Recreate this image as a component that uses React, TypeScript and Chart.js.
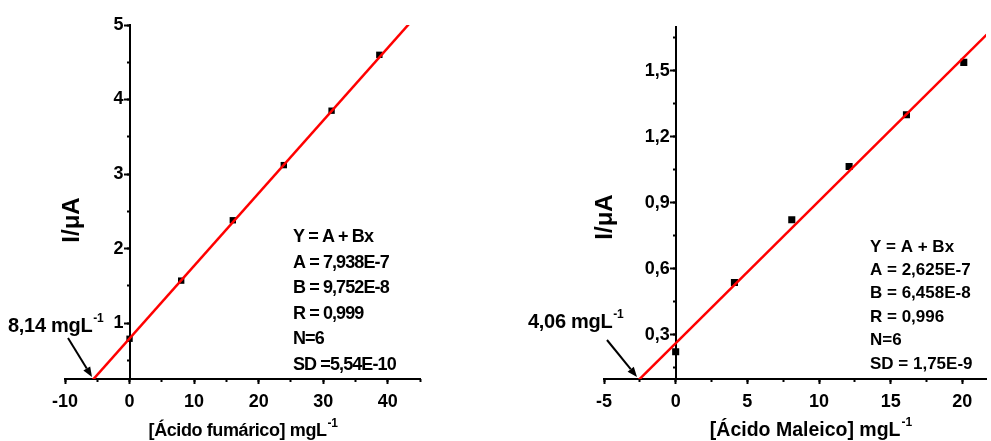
import React, { useEffect, useRef } from 'react';
import { Chart, registerables } from 'chart.js';

Chart.register(...registerables);

const FONT = '"Liberation Sans", Arial, sans-serif';

// ---- Left chart: ácido fumárico ----
const fumaricX = [0, 8, 16, 23.9, 31.3, 38.7];
const fumaricY = [0.79, 1.57, 2.38, 3.12, 3.85, 4.6];
const fumaricFitX = [-8.14, 45];
const fumaricFitY = [0, 5.18];
const fumaricStats = ['Y = A + Bx', 'A = 7,938E-7', 'B = 9,752E-8', 'R = 0,999', 'N=6', 'SD =5,54E-10'];
const fumaricLod = '8,14 mgL';
const fumaricXTitle = '[Ácido fumárico] mgL';

// ---- Right chart: ácido maleico ----
const maleicX = [0, 4.1, 8.1, 12.1, 16.1, 20.1];
const maleicY = [0.224, 0.538, 0.823, 1.065, 1.3, 1.538];
const maleicFitX = [-4.06, 21.7];
const maleicFitY = [0, 1.664];
const maleicStats = ['Y = A + Bx', 'A = 2,625E-7', 'B = 6,458E-8', 'R = 0,996', 'N=6', 'SD = 1,75E-9'];
const maleicLod = '4,06 mgL';
const maleicXTitle = '[Ácido Maleico] mgL';

const yTitle = 'I/\u03BCA';
const superscript = '-1';

type PanelCfg = {
  width: number;
  left: number;
  padding: { left: number; right: number; top: number; bottom: number };
  xMin: number; xMax: number; xStep: number; xMinor: number;
  yMin: number; yMax: number; yStep: number; yMinor: number;
  yDecimals: number;
  tickFont: number;
  pointRadius: number;
  xs: number[]; ys: number[]; fitX: number[]; fitY: number[];
  stats: string[]; statsX: number; statsY0: number; statsStep: number; statsFont: number; statsSpacing: number;
  lod: string; lodX: number; lodBase: number; lodFont: number;
  arrow: [number, number, number, number];
  xTitle: string; xTitleCenter: number; xTitleBase: number; xTitleFont: number; xTitleSpacing: number;
  yTitleX: number; yTitleY: number; yTitleFont: number;
};

const X_AXIS_BOX = 40;

const panels: PanelCfg[] = [
  {
    width: 480, left: 0,
    padding: { left: 65, right: 60, top: 25, bottom: 62 - X_AXIS_BOX },
    xMin: -10, xMax: 45, xStep: 10, xMinor: 5,
    yMin: 0.25, yMax: 5, yStep: 1, yMinor: 0.5,
    yDecimals: 0,
    tickFont: 18,
    pointRadius: 4.5,
    xs: fumaricX, ys: fumaricY, fitX: fumaricFitX, fitY: fumaricFitY,
    stats: fumaricStats, statsX: 293, statsY0: 237, statsStep: 25.6, statsFont: 18, statsSpacing: -0.9,
    lod: fumaricLod, lodX: 8, lodBase: 332, lodFont: 20,
    arrow: [68, 338, 92, 377],
    xTitle: fumaricXTitle, xTitleCenter: 243, xTitleBase: 436, xTitleFont: 18, xTitleSpacing: -0.4,
    yTitleX: 72, yTitleY: 220, yTitleFont: 24,
  },
  {
    width: 511, left: 480,
    padding: { left: 124, right: 0, top: 26.7, bottom: 62 - X_AXIS_BOX },
    xMin: -5, xMax: 21.65, xStep: 5, xMinor: 2.5,
    yMin: 0.1, yMax: 1.7, yStep: 0.3, yMinor: 0.15,
    yDecimals: 1,
    tickFont: 18,
    pointRadius: 5,
    xs: maleicX, ys: maleicY, fitX: maleicFitX, fitY: maleicFitY,
    stats: maleicStats, statsX: 390, statsY0: 247, statsStep: 23.4, statsFont: 17, statsSpacing: 0,
    lod: maleicLod, lodX: 48, lodBase: 328, lodFont: 20,
    arrow: [127, 340, 157, 377],
    xTitle: maleicXTitle, xTitleCenter: 331, xTitleBase: 436, xTitleFont: 19.5, xTitleSpacing: 0,
    yTitleX: 125, yTitleY: 217, yTitleFont: 24,
  },
];

function textWithSup(ctx: CanvasRenderingContext2D, text: string, x: number, base: number, size: number, supSize: number, spacing: number) {
  ctx.font = `bold ${size}px ${FONT}`;
  (ctx as any).letterSpacing = `${spacing}px`;
  ctx.textAlign = 'left';
  ctx.textBaseline = 'alphabetic';
  ctx.fillText(text, x, base);
  const w = ctx.measureText(text).width;
  ctx.font = `bold ${supSize}px ${FONT}`;
  ctx.fillText(superscript, x + w + 1, base - size * 0.5);
  (ctx as any).letterSpacing = '0px';
}

function measureWithSup(ctx: CanvasRenderingContext2D, text: string, size: number, supSize: number, spacing: number) {
  ctx.font = `bold ${size}px ${FONT}`;
  (ctx as any).letterSpacing = `${spacing}px`;
  const w = ctx.measureText(text).width;
  ctx.font = `bold ${supSize}px ${FONT}`;
  const w2 = ctx.measureText(superscript).width;
  (ctx as any).letterSpacing = '0px';
  return w + 1 + w2;
}

const Y_LABEL_GAP = 6;

function overlayPlugin(p: PanelCfg) {
  return {
    id: 'overlay',
    beforeDraw(chart: any) {
      // y axis sits at x = 0 inside the plot: move its tick labels left of the tick marks
      const ys = chart.scales.y;
      if (ys && typeof ys.getLabelItems === 'function') {
        const items = ys.getLabelItems(chart.chartArea);
        if (!ys.__shifted) {
          items.forEach((it: any) => {
            if (it.options && it.options.translation) it.options.translation[0] -= Y_LABEL_GAP;
          });
          ys.__shifted = true;
        }
      }
    },
    afterUpdate(chart: any) {
      if (chart.scales.y) chart.scales.y.__shifted = false;
    },
    afterDraw(chart: any) {
      const ctx: CanvasRenderingContext2D = chart.ctx;
      ctx.save();
      ctx.fillStyle = '#000';
      ctx.strokeStyle = '#000';

      // stats block
      ctx.font = `bold ${p.statsFont}px ${FONT}`;
      (ctx as any).letterSpacing = `${p.statsSpacing}px`;
      ctx.textAlign = 'left';
      ctx.textBaseline = 'middle';
      p.stats.forEach((s, i) => ctx.fillText(s, p.statsX, p.statsY0 + i * p.statsStep));
      (ctx as any).letterSpacing = '0px';

      // LOD label + arrow
      textWithSup(ctx, p.lod, p.lodX, p.lodBase, p.lodFont, 12, -0.3);
      const [x1, y1, x2, y2] = p.arrow;
      const ang = Math.atan2(y2 - y1, x2 - x1);
      const hl = 10, hw = 4;
      ctx.lineWidth = 2;
      ctx.beginPath();
      ctx.moveTo(x1, y1);
      ctx.lineTo(x2 - Math.cos(ang) * hl, y2 - Math.sin(ang) * hl);
      ctx.stroke();
      ctx.beginPath();
      ctx.moveTo(x2, y2);
      ctx.lineTo(x2 - Math.cos(ang) * hl - Math.sin(ang) * hw, y2 - Math.sin(ang) * hl + Math.cos(ang) * hw);
      ctx.lineTo(x2 - Math.cos(ang) * hl + Math.sin(ang) * hw, y2 - Math.sin(ang) * hl - Math.cos(ang) * hw);
      ctx.closePath();
      ctx.fill();

      // x title
      const tw = measureWithSup(ctx, p.xTitle, p.xTitleFont, 12, p.xTitleSpacing);
      textWithSup(ctx, p.xTitle, p.xTitleCenter - tw / 2, p.xTitleBase, p.xTitleFont, 12, p.xTitleSpacing);

      // y title
      ctx.translate(p.yTitleX, p.yTitleY);
      ctx.rotate(-Math.PI / 2);
      ctx.font = `bold ${p.yTitleFont}px ${FONT}`;
      ctx.textAlign = 'center';
      ctx.textBaseline = 'middle';
      ctx.fillText(yTitle, 0, 0);
      ctx.restore();
    },
  };
}

function Panel({ p }: { p: PanelCfg }) {
  const ref = useRef<HTMLCanvasElement>(null);
  useEffect(() => {
    const canvas = ref.current!;
    const tickFont = { family: FONT, size: p.tickFont, weight: 'bold' as const };
    const majorGrid = { drawOnChartArea: false, drawTicks: true, tickLength: 5, tickWidth: 2, tickColor: '#000' };
    const minorGrid = { drawOnChartArea: false, drawTicks: true, tickLength: 3, tickWidth: 2, tickColor: '#000' };
    const chart = new Chart(canvas, {
      type: 'scatter',
      data: {
        datasets: [
          {
            data: p.fitX.map((x, i) => ({ x, y: p.fitY[i] })),
            showLine: true,
            borderColor: '#ff0000',
            borderWidth: 2.5,
            pointRadius: 0,
          },
          {
            data: p.xs.map((x, i) => ({ x, y: p.ys[i] })),
            pointStyle: 'rect',
            pointRadius: p.pointRadius,
            backgroundColor: '#000',
            borderColor: '#000',
            borderWidth: 0,
            showLine: false,
          },
        ],
      },
      options: {
        responsive: false,
        animation: false,
        devicePixelRatio: 1,
        layout: { padding: p.padding },
        plugins: { legend: { display: false }, tooltip: { enabled: false } },
        events: [],
        scales: {
          x: {
            type: 'linear', position: 'bottom', min: p.xMin, max: p.xMax, weight: 1,
            afterFit: (s: any) => { s.height = X_AXIS_BOX; },
            ticks: {
              stepSize: p.xStep, includeBounds: false, autoSkip: false, maxRotation: 0,
              font: tickFont, color: '#000', padding: 7,
              callback: (v: any) => String(v),
            },
            grid: majorGrid,
            border: { display: true, width: 2, color: '#000' },
          },
          xMinor: {
            type: 'linear', axis: 'x', position: 'bottom', min: p.xMin, max: p.xMax, weight: 0,
            afterFit: (s: any) => { s.height = 0; },
            ticks: { display: false, stepSize: p.xMinor, includeBounds: false, autoSkip: false },
            grid: minorGrid,
            border: { display: false },
          },
          y: {
            type: 'linear', position: { x: 0 } as any, min: p.yMin, max: p.yMax,
            afterFit: (s: any) => { s.width = 0; },
            ticks: {
              stepSize: p.yStep, includeBounds: false, autoSkip: false,
              font: tickFont, color: '#000', padding: 1,
              callback: (v: any) => Number(v).toFixed(p.yDecimals).replace('.', ','),
            },
            grid: majorGrid,
            border: { display: true, width: 2, color: '#000' },
          },
          yMinor: {
            type: 'linear', axis: 'y', position: { x: 0 } as any, min: p.yMin, max: p.yMax,
            afterFit: (s: any) => { s.width = 0; },
            ticks: { display: false, stepSize: p.yMinor, includeBounds: false, autoSkip: false },
            grid: minorGrid,
            border: { display: false },
          },
        } as any,
      },
      plugins: [overlayPlugin(p)],
    });
    return () => chart.destroy();
  }, [p]);
  return (
    <canvas
      ref={ref}
      width={p.width}
      height={441}
      style={{ position: 'absolute', left: p.left, top: 0, width: p.width, height: 441 }}
    />
  );
}

export default function App() {
  return (
    <div style={{ position: 'absolute', left: 0, top: 0, width: 991, height: 441, background: '#fff', overflow: 'hidden' }}>
      {panels.map((p, i) => <Panel key={i} p={p} />)}
    </div>
  );
}
